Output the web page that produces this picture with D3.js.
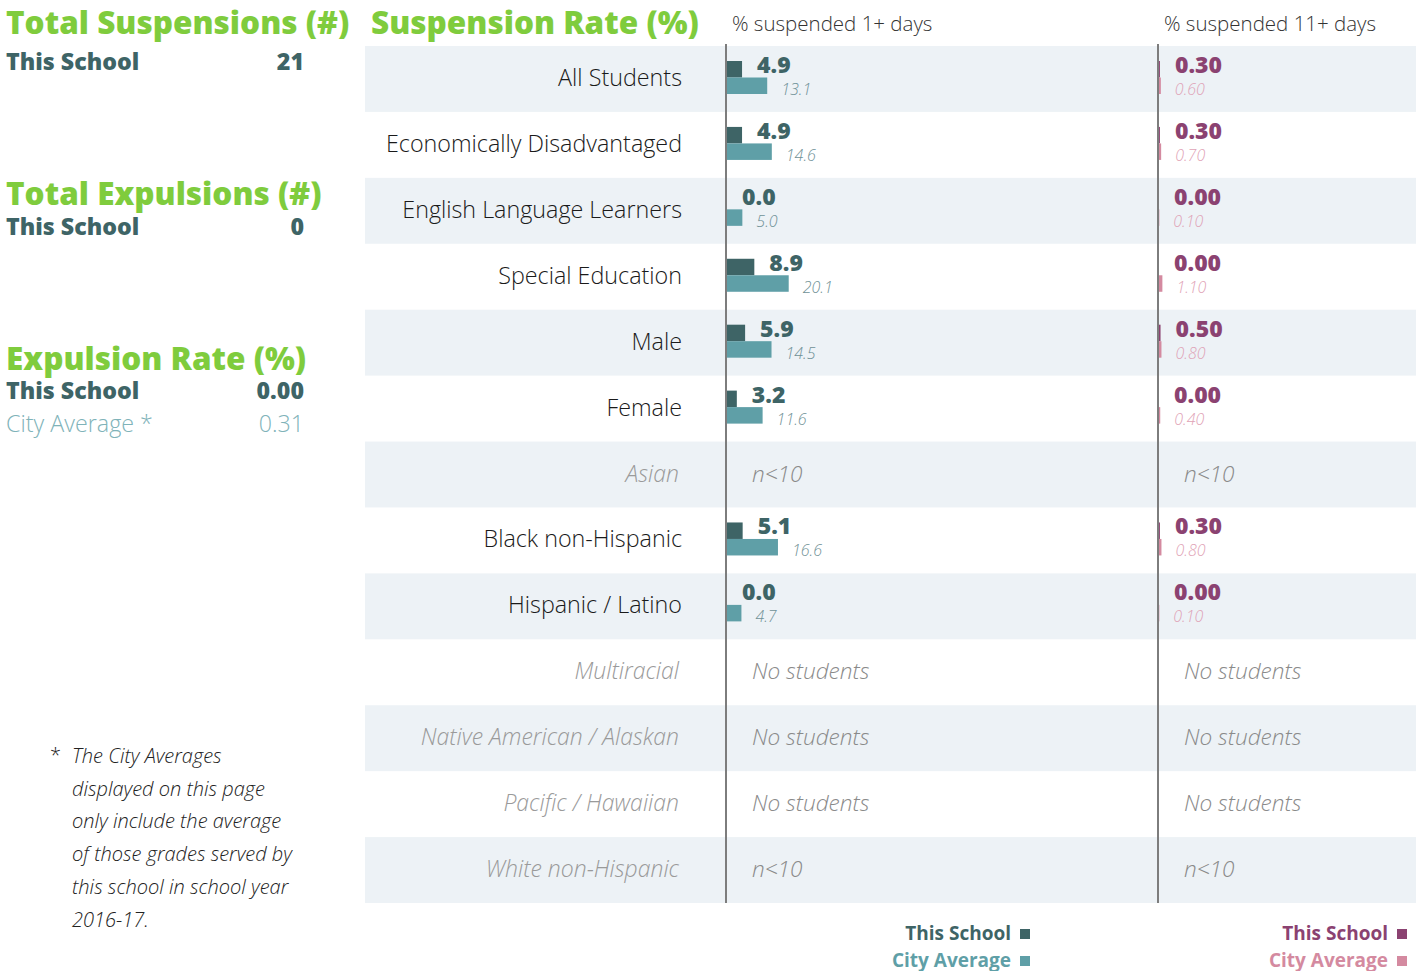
<!DOCTYPE html>
<html>
<head>
<meta charset="utf-8">
<script src="https://cdn.jsdelivr.net/npm/d3@7"></script>
<style>
  body { margin: 0; background: #fff; }
  svg { font-family: 'Open Sans', sans-serif; }
</style>
</head>
<body>
<svg id="drawing_region"></svg>
<script>
// ---- data ----
const categories = ['All Students', 'Economically Disadvantaged', 'English Language Learners',
    'Special Education', 'Male', 'Female', 'Asian', 'Black non-Hispanic', 'Hispanic / Latino',
    'Multiracial', 'Native American / Alaskan', 'Pacific / Hawaiian', 'White non-Hispanic'];
const school_1 = [4.9, 4.9, 0.0, 8.9, 5.9, 3.2, null, 5.1, 0.0, null, null, null, null];
const city_1 = [13.1, 14.6, 5.0, 20.1, 14.5, 11.6, null, 16.6, 4.7, null, null, null, null];
const school_11 = [0.30, 0.30, 0.00, 0.00, 0.50, 0.00, null, 0.30, 0.00, null, null, null, null];
const city_11 = [0.60, 0.70, 0.10, 1.10, 0.80, 0.40, null, 0.80, 0.10, null, null, null, null];
const notes = [null, null, null, null, null, null, 'n<10', null, null,
    'No students', 'No students', 'No students', 'n<10'];
const column_titles = ['% suspended 1+ days', '% suspended 11+ days'];

const summary = [
    { title: 'Total Suspensions (#)', rows: [['This School', '21']] },
    { title: 'Total Expulsions (#)', rows: [['This School', '0']] },
    { title: 'Expulsion Rate (%)', rows: [['This School', '0.00'], ['City Average *', '0.31']] }
];
const footnote = ['The City Averages', 'displayed on this page', 'only include the average',
    'of those grades served by', 'this school in school year', '2016-17.'];

const rows = categories.map((c, i) => ({
    label: c, i: i, s1: school_1[i], c1: city_1[i], s11: school_11[i], c11: city_11[i], note: notes[i]
}));

// ---- layout ----
const W = 1421, H = 971;
const green = '#7fcc3d';
const teal_dark = '#3e6466', teal = '#5f9fa7', teal_text = '#6f9196';
const plum = '#8b4271', pink = '#d48aa0', pink_text = '#dfa3b6';

const svg = d3.select('#drawing_region').attr('width', W).attr('height', H);

const yscale = d3.scaleBand().domain(categories).range([46, 903]).padding(0);
const inner = d3.scaleBand().domain(['school', 'city']).range([15, 48]).padding(0);
const xscale = d3.scaleLinear().domain([0, 100]).range([0, 307]);

const cols = [
    { x0: 727, title: column_titles[0], s: 's1', c: 'c1', fmt: d3.format('.1f'),
      sc: teal_dark, cc: teal, lc: teal_dark, ic: teal_text },
    { x0: 1159, title: column_titles[1], s: 's11', c: 'c11', fmt: d3.format('.2f'),
      sc: plum, cc: pink, lc: plum, ic: pink_text }
];

// stripes
svg.append('g').selectAll('rect')
    .data(rows.filter(d => d.i % 2 === 0))
    .join('rect')
    .attr('x', 365).attr('width', 1416 - 365)
    .attr('y', d => yscale(d.label)).attr('height', yscale.bandwidth())
    .attr('fill', '#edf2f6');

// row labels
svg.append('g').selectAll('text')
    .data(rows)
    .join('text')
    .attr('x', d => d.note ? 679 : 682)
    .attr('y', d => yscale(d.label) + yscale.bandwidth() / 2 + 7)
    .attr('text-anchor', 'end')
    .attr('font-size', d => d.note ? 23 : 23.3)
    .attr('font-style', d => d.note ? 'italic' : 'normal')
    .attr('font-weight', 300)
    .attr('fill', d => d.note ? '#9a9a9a' : '#1a1a1a')
    .text(d => d.label);

// title
svg.append('text')
    .attr('x', 371).attr('y', 34)
    .attr('font-size', 31.5).attr('font-weight', 800).attr('fill', green)
    .text('Suspension Rate (%)');

cols.forEach(col => {
    const g = svg.append('g').attr('transform', `translate(${col.x0},0)`);

    g.append('text')
        .attr('x', 5).attr('y', 31)
        .attr('font-size', 20.5).attr('font-weight', 300).attr('fill', '#333')
        .text(col.title);

    const withData = rows.filter(d => d[col.s] != null);

    g.selectAll('rect.school')
        .data(withData)
        .join('rect')
        .attr('class', 'school')
        .attr('x', 0)
        .attr('y', d => yscale(d.label) + inner('school'))
        .attr('width', d => xscale(d[col.s]))
        .attr('height', inner.bandwidth())
        .attr('fill', col.sc);

    g.selectAll('rect.city')
        .data(withData)
        .join('rect')
        .attr('class', 'city')
        .attr('x', 0)
        .attr('y', d => yscale(d.label) + inner('city'))
        .attr('width', d => xscale(d[col.c]))
        .attr('height', inner.bandwidth())
        .attr('fill', col.cc);

    g.selectAll('text.sval')
        .data(withData)
        .join('text')
        .attr('class', 'sval')
        .attr('x', d => xscale(d[col.s]) + 15)
        .attr('y', d => yscale(d.label) + 27)
        .attr('font-size', 23).attr('font-weight', 800).attr('fill', col.lc)
        .text(d => col.fmt(d[col.s]));

    g.selectAll('text.cval')
        .data(withData)
        .join('text')
        .attr('class', 'cval')
        .attr('x', d => xscale(d[col.c]) + 14)
        .attr('y', d => yscale(d.label) + 49)
        .attr('font-size', 16).attr('font-style', 'italic').attr('font-weight', 300)
        .attr('fill', col.ic)
        .text(d => col.fmt(d[col.c]));

    g.selectAll('text.note')
        .data(rows.filter(d => d.note))
        .join('text')
        .attr('class', 'note')
        .attr('x', 25)
        .attr('y', d => yscale(d.label) + yscale.bandwidth() / 2 + 7)
        .attr('font-size', 22.6).attr('font-style', 'italic').attr('font-weight', 300)
        .attr('fill', '#8a8a8a')
        .text(d => d.note);

    g.append('line')
        .attr('x1', -1).attr('x2', -1)
        .attr('y1', 44).attr('y2', 903)
        .attr('stroke', '#7d7d7d').attr('stroke-width', 2);

    // legend
    const lx = col.x0 === 727 ? 1030 : 1407;
    const leg = svg.append('g');
    [['This School', col.sc, 940], ['City Average', col.cc, 967]].forEach(([t, c, y]) => {
        leg.append('text')
            .attr('x', lx - 19).attr('y', y)
            .attr('text-anchor', 'end')
            .attr('font-size', 19).attr('font-weight', 700).attr('fill', c)
            .text(t);
        leg.append('rect')
            .attr('x', lx - 10).attr('y', y - 11)
            .attr('width', 10).attr('height', 10)
            .attr('fill', c);
    });
});

// ---- left summary ----
const left = svg.append('g');
const title_y = [34, 205, 370];
const row_y = [[70], [235], [399, 432]];
summary.forEach((s, k) => {
    left.append('text')
        .attr('x', 6).attr('y', title_y[k])
        .attr('font-size', 31.5).attr('font-weight', 800).attr('fill', green)
        .text(s.title);
    s.rows.forEach((r, j) => {
        const isCity = r[0].startsWith('City');
        const y = row_y[k][j];
        left.append('text')
            .attr('x', 6).attr('y', y)
            .attr('font-size', isCity ? 23.3 : 23.2).attr('font-weight', isCity ? 300 : 800)
            .attr('fill', isCity ? '#7fb3b9' : teal_dark)
            .text(r[0]);
        left.append('text')
            .attr('x', 304).attr('y', y)
            .attr('text-anchor', 'end')
            .attr('font-size', 23.2).attr('font-weight', isCity ? 300 : 800)
            .attr('fill', isCity ? '#7fb3b9' : teal_dark)
            .text(r[1]);
    });
});

// footnote
left.append('text')
    .attr('x', 50).attr('y', 762)
    .attr('font-size', 20).attr('font-weight', 300).attr('fill', '#222')
    .text('*');
left.selectAll('text.foot')
    .data(footnote)
    .join('text')
    .attr('class', 'foot')
    .attr('x', 72)
    .attr('y', (d, i) => 763 + i * 32.7)
    .attr('font-size', 20).attr('font-style', 'italic').attr('font-weight', 300)
    .attr('fill', '#222')
    .text(d => d);
</script>
</body>
</html>
